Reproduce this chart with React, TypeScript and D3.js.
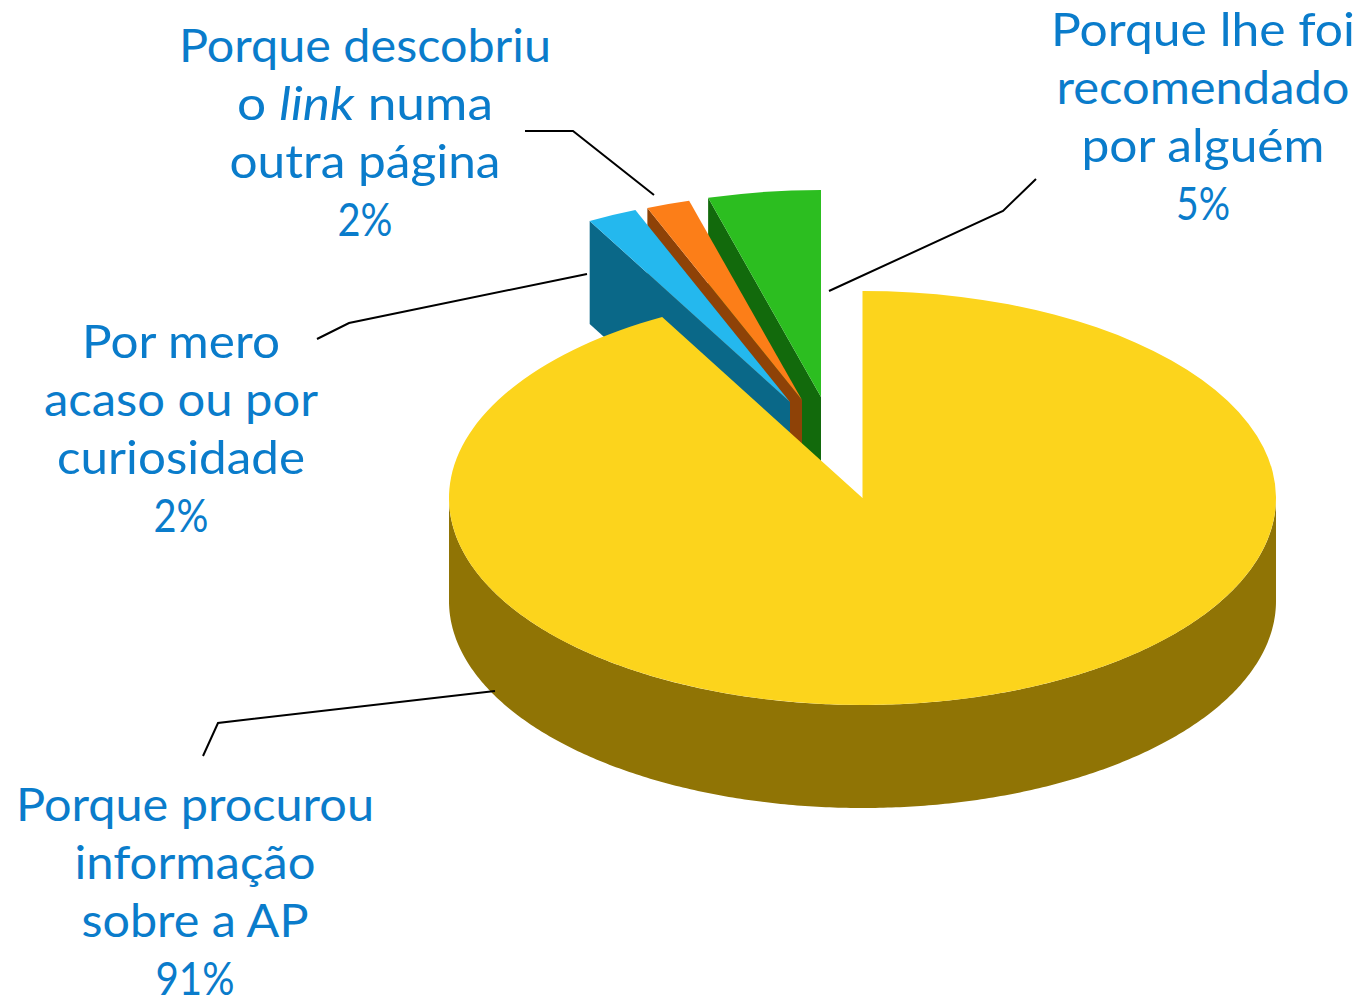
import React from "react";
import * as d3 from "d3";

const categories = [
  "Porque procurou informação sobre a AP",
  "Por mero acaso ou por curiosidade",
  "Porque descobriu o link numa outra página",
  "Porque lhe foi recomendado por alguém",
];
const shares = [91.95, 1.95, 1.7, 4.4];
const percentLabels = ["91%", "2%", "2%", "5%"];
const topColors = ["#FCD41C", "#24B8EE", "#FC7E18", "#2CBE20"];
const sideColors = ["#907405", "#0A6888", "#8E4207", "#126A0C"];

const RX = 413.5;
const RY = 207;
const DEPTH = 103;
const apexes: [number, number][] = [
  [862.5, 498],
  [790, 402],
  [802, 400],
  [821, 397],
];

type Span = string | { t: string; i: boolean };
const labelLines: Span[][][] = [
  [["Porque procurou"], ["informação"], ["sobre a AP"], [percentLabels[0]]],
  [["Por mero"], ["acaso ou por"], ["curiosidade"], [percentLabels[1]]],
  [["Porque descobriu"], ["o ", { t: "link", i: true }, " numa"], ["outra página"], [percentLabels[2]]],
  [["Porque lhe foi"], ["recomendado"], ["por alguém"], [percentLabels[3]]],
];
const labelWidths: number[][] = [
  [358, 241, 227, 79],
  [198, 274, 248, 55],
  [372, 256, 271, 55],
  [304, 293, 243, 54],
];
const labelAnchors: [number, number][] = [
  [195, 821],
  [181, 358],
  [365, 62],
  [1203, 46],
];
const leaders: [number, number][][] = [
  [[203, 756], [218, 723], [495, 691]],
  [[317, 339], [349, 323], [587, 274]],
  [[525, 131], [573, 131], [654, 195]],
  [[1036, 179], [1003, 211], [829, 291]],
];

const FONT = "Lato, 'Open Sans', sans-serif";
const LINE_H = 58;

export default function App() {
  const pie = d3.pie<number>().sort(null).startAngle(0).endAngle(2 * Math.PI);
  const arcs = pie(shares);
  const arc = d3.arc<d3.PieArcDatum<number>>().innerRadius(0).outerRadius(RX);
  const line = d3.line();
  const yScale = RY / RX;

  // rim of the big slice: front half of the ellipse, extruded
  const rim = d3
    .area<number>()
    .x((a) => apexes[0][0] + RX * Math.cos(a))
    .y0((a) => apexes[0][1] + RY * Math.sin(a))
    .y1((a) => apexes[0][1] + RY * Math.sin(a) + DEPTH)(d3.range(0, Math.PI + 0.005, 0.01));

  // left radial wall of each small exploded slice
  const wall = (i: number) => {
    const [ax, ay] = apexes[i];
    const a = arcs[i].startAngle;
    const ox = ax + RX * Math.sin(a);
    const oy = ay - RY * Math.cos(a);
    return line([
      [ax, ay],
      [ox, oy],
      [ox, oy + DEPTH],
      [ax, ay + DEPTH],
    ]) as string;
  };

  const backToFront = [3, 2, 1];

  return (
    <svg
      width={1360}
      height={998}
      viewBox="0 0 1360 998"
      style={{ position: "absolute", left: 0, top: 0, display: "block" }}
    >
      {backToFront.map((i) => (
        <g key={categories[i]}>
          <path d={wall(i)} fill={sideColors[i]} />
          <path
            d={arc(arcs[i]) as string}
            fill={topColors[i]}
            transform={`translate(${apexes[i][0]},${apexes[i][1]}) scale(1,${yScale})`}
          />
        </g>
      ))}
      <path d={rim as string} fill={sideColors[0]} />
      <path
        d={arc(arcs[0]) as string}
        fill={topColors[0]}
        transform={`translate(${apexes[0][0]},${apexes[0][1]}) scale(1,${yScale})`}
      />
      {leaders.map((pts, i) => (
        <path key={i} d={line(pts) as string} fill="none" stroke="#000" strokeWidth={2} />
      ))}
      {labelLines.map((lines, i) =>
        lines.map((spans, j) => (
          <text
            key={`${i}-${j}`}
            x={labelAnchors[i][0]}
            y={labelAnchors[i][1] + j * LINE_H}
            textAnchor="middle"
            fontFamily={FONT}
            fontSize={47}
            fill="#0A7CCB"
            xmlSpace="preserve"
            textLength={labelWidths[i][j]}
            lengthAdjust="spacingAndGlyphs"
          >
            {spans.map((s, k) =>
              typeof s === "string" ? (
                <tspan key={k}>{s}</tspan>
              ) : (
                <tspan key={k} fontStyle="italic">
                  {s.t}
                </tspan>
              )
            )}
          </text>
        ))
      )}
    </svg>
  );
}
